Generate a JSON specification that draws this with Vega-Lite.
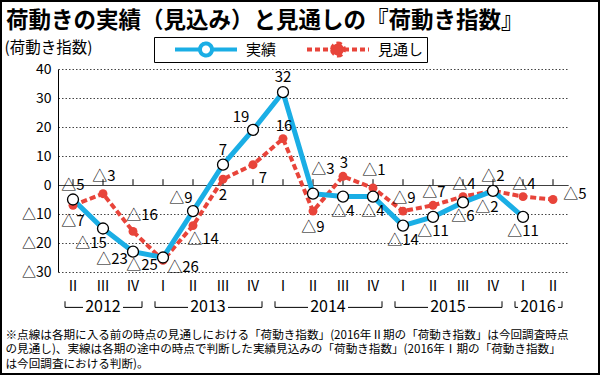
{
  "$schema": "https://vega.github.io/schema/vega-lite/v6.json",
  "width": 598,
  "height": 373,
  "autosize": "none",
  "padding": 1,
  "background": "white",
  "title": {
    "text": "荷動きの実績（見込み）と見通しの『荷動き指数』",
    "anchor": "start",
    "frame": "group",
    "offset": -31,
    "dx": 5,
    "font": "Noto Sans CJK JP",
    "fontSize": 22.5,
    "fontWeight": "bold",
    "color": "black"
  },
  "datasets": {
    "main": [
      {"period": "2012Q2", "t": 2012.25, "year": "2012", "q": "Ⅱ", "実績": -5, "見通し": -7},
      {"period": "2012Q3", "t": 2012.5, "year": "2012", "q": "Ⅲ", "実績": -15, "見通し": -3},
      {"period": "2012Q4", "t": 2012.75, "year": "2012", "q": "Ⅳ", "実績": -23, "見通し": -16},
      {"period": "2013Q1", "t": 2013.0, "year": "2013", "q": "Ⅰ", "実績": -25, "見通し": -26},
      {"period": "2013Q2", "t": 2013.25, "year": "2013", "q": "Ⅱ", "実績": -9, "見通し": -14},
      {"period": "2013Q3", "t": 2013.5, "year": "2013", "q": "Ⅲ", "実績": 7, "見通し": 2},
      {"period": "2013Q4", "t": 2013.75, "year": "2013", "q": "Ⅳ", "実績": 19, "見通し": 7},
      {"period": "2014Q1", "t": 2014.0, "year": "2014", "q": "Ⅰ", "実績": 32, "見通し": 16},
      {"period": "2014Q2", "t": 2014.25, "year": "2014", "q": "Ⅱ", "実績": -3, "見通し": -9},
      {"period": "2014Q3", "t": 2014.5, "year": "2014", "q": "Ⅲ", "実績": -4, "見通し": 3},
      {"period": "2014Q4", "t": 2014.75, "year": "2014", "q": "Ⅳ", "実績": -4, "見通し": -1},
      {"period": "2015Q1", "t": 2015.0, "year": "2015", "q": "Ⅰ", "実績": -14, "見通し": -9},
      {"period": "2015Q2", "t": 2015.25, "year": "2015", "q": "Ⅱ", "実績": -11, "見通し": -7},
      {"period": "2015Q3", "t": 2015.5, "year": "2015", "q": "Ⅲ", "実績": -6, "見通し": -4},
      {"period": "2015Q4", "t": 2015.75, "year": "2015", "q": "Ⅳ", "実績": -2, "見通し": -2},
      {"period": "2016Q1", "t": 2016.0, "year": "2016", "q": "Ⅰ", "実績": -11, "見通し": -4},
      {"period": "2016Q2", "t": 2016.25, "year": "2016", "q": "Ⅱ", "実績": null, "見通し": -5}
    ]
  },
  "data": {"name": "main"},
  "layer": [
    {
      "mark": {"type": "line", "strokeWidth": 4, "strokeDash": [6, 3]},
      "encoding": {
        "x": {
          "field": "t", "type": "quantitative",
          "scale": {"domain": [2012.125, 2016.375], "range": [57, 567], "nice": false, "zero": false},
          "axis": {
            "orient": "bottom", "offset": -102,
            "labels": false, "domain": false, "ticks": false, "tickSize": 0, "grid": false,
            "title": [
              "※点線は各期に入る前の時点の見通しにおける「荷動き指数」(2016年Ⅱ期の「荷動き指数」は今回調査時点",
              "　の見通し)、実線は各期の途中の時点で判断した実績見込みの「荷動き指数」(2016年Ⅰ期の「荷動き指数」",
              "　は今回調査における判断)。"
            ],
            "titleX": 4, "titleY": 57, "titleAlign": "left", "titleAnchor": "start", "titleBaseline": "top",
            "titleFont": "Noto Sans CJK JP", "titleFontSize": 11.6, "titleFontWeight": "normal",
            "titleColor": "black", "titleLineHeight": 14.5
          }
        },
        "y": {
          "field": "見通し", "type": "quantitative",
          "scale": {"domain": [-30, 40], "range": [271, 68], "nice": false, "zero": false},
          "axis": {
            "orient": "left", "offset": -57,
            "values": [-30, -20, -10, 0, 10, 20, 30, 40],
            "format": "d",
            "grid": true,
            "gridDash": {"condition": {"test": "datum.value === 0", "value": [1, 0]}, "value": [1.5, 2]},
            "gridColor": {"condition": {"test": "datum.value === 0", "value": "black"}, "value": "#444444"},
            "gridWidth": 1,
            "domain": true, "domainColor": "black", "domainWidth": 1,
            "ticks": false, "tickSize": 0,
            "labelFont": "Noto Sans CJK JP", "labelFontSize": 14, "labelColor": "black", "labelPadding": 7,
            "title": "(荷動き指数)",
            "titleAngle": 0, "titleX": -54, "titleY": 46, "titleAlign": "left", "titleBaseline": "middle",
            "titleFont": "Noto Sans CJK JP", "titleFontSize": 15.5, "titleFontWeight": "normal", "titleColor": "black"
          }
        },
        "stroke": {
          "datum": "見通し", "type": "nominal",
          "scale": {"domain": ["実績", "見通し"], "range": ["#1aaee5", "#e8443a"]},
          "legend": {
            "title": null,
            "orient": "none", "legendX": 153, "legendY": 36,
            "direction": "horizontal",
            "strokeColor": "black",
            "padding": 3,
            "clipHeight": 19,
            "symbolType": "M-0.59,0L0.051,0M0.359,0L1,0M0.051,0A0.154,0.154,0,1,1,0.359,0A0.154,0.154,0,1,1,0.051,0Z",
            "symbolSize": 6084,
            "symbolStrokeWidth": 4,
            "labelOffset": 7,
            "columnPadding": 12,
            "labelFont": "Noto Sans CJK JP", "labelFontSize": 15, "labelColor": "black",
            "labelExpr": "datum.label === '見通し' ? datum.label + '\u3000\u2004' : datum.label",
            "encoding": {
              "symbols": {
                "fill": {"condition": {"test": "datum.value === '見通し'", "value": "#e8443a"}, "value": "white"},
                "strokeDash": {"condition": {"test": "datum.value === '見通し'", "value": [5, 3]}, "value": [1, 0]}
              }
            }
          }
        }
      }
    },
    {
      "mark": {"type": "rule", "color": "black", "strokeWidth": 1},
      "encoding": {
        "x": {"field": "t", "type": "quantitative"},
        "y": {"datum": 0, "type": "quantitative"},
        "y2": {"datum": 2}
      }
    },
    {
      "mark": {"type": "text", "fontSize": 14, "color": "black"},
      "encoding": {
        "x": {"field": "t", "type": "quantitative"},
        "y": {"datum": -35.2, "type": "quantitative"},
        "text": {"field": "q", "type": "nominal"}
      }
    },
    {
      "transform": [{"aggregate": [{"op": "min", "field": "t", "as": "t_start"}, {"op": "mean", "field": "t", "as": "t_mid"}], "groupby": ["year"]}],
      "mark": {"type": "rule", "color": "black", "strokeWidth": 1, "xOffset": -8, "x2Offset": -20},
      "encoding": {
        "x": {"field": "t_start", "type": "quantitative"},
        "x2": {"field": "t_mid"},
        "y": {"datum": -42.2, "type": "quantitative"}
      }
    },
    {
      "transform": [{"aggregate": [{"op": "max", "field": "t", "as": "t_end"}, {"op": "mean", "field": "t", "as": "t_mid"}], "groupby": ["year"]}],
      "mark": {"type": "rule", "color": "black", "strokeWidth": 1, "xOffset": 20, "x2Offset": 9},
      "encoding": {
        "x": {"field": "t_mid", "type": "quantitative"},
        "x2": {"field": "t_end"},
        "y": {"datum": -42.2, "type": "quantitative"}
      }
    },
    {
      "transform": [{"aggregate": [{"op": "min", "field": "t", "as": "t_start"}], "groupby": ["year"]}],
      "mark": {"type": "rule", "color": "black", "strokeWidth": 1, "xOffset": -8},
      "encoding": {
        "x": {"field": "t_start", "type": "quantitative"},
        "y": {"datum": -42.2, "type": "quantitative"},
        "y2": {"datum": -40.1}
      }
    },
    {
      "transform": [{"aggregate": [{"op": "max", "field": "t", "as": "t_end"}], "groupby": ["year"]}],
      "mark": {"type": "rule", "color": "black", "strokeWidth": 1, "xOffset": 9},
      "encoding": {
        "x": {"field": "t_end", "type": "quantitative"},
        "y": {"datum": -42.2, "type": "quantitative"},
        "y2": {"datum": -40.1}
      }
    },
    {
      "transform": [{"aggregate": [{"op": "mean", "field": "t", "as": "t_mid"}], "groupby": ["year"]}],
      "mark": {"type": "text", "fontSize": 16, "color": "black"},
      "encoding": {
        "x": {"field": "t_mid", "type": "quantitative"},
        "y": {"datum": -42.2, "type": "quantitative"},
        "text": {"field": "year", "type": "nominal"}
      }
    },
    {
      "mark": {"type": "line", "strokeWidth": 5},
      "encoding": {
        "x": {"field": "t", "type": "quantitative"},
        "y": {"field": "実績", "type": "quantitative"},
        "stroke": {"datum": "実績", "type": "nominal"}
      }
    },
    {
      "mark": {"type": "point", "filled": true, "fill": "#e8443a", "color": "#e8443a", "strokeWidth": 0, "size": 80, "opacity": 1},
      "encoding": {
        "x": {"field": "t", "type": "quantitative"},
        "y": {"field": "見通し", "type": "quantitative"}
      }
    },
    {
      "mark": {"type": "point", "filled": true, "fill": "white", "stroke": "black", "strokeWidth": 1.3, "size": 120, "opacity": 1},
      "encoding": {
        "x": {"field": "t", "type": "quantitative"},
        "y": {"field": "実績", "type": "quantitative"}
      }
    },
    {
      "transform": [{"filter": {"field": "period", "oneOf": ["2012Q2", "2013Q3", "2014Q1", "2015Q4"]}}],
      "mark": {"type": "text", "dx": 0, "dy": -15},
      "encoding": {
        "x": {"field": "t", "type": "quantitative"},
        "y": {"field": "実績", "type": "quantitative"},
        "text": {"field": "実績", "type": "quantitative", "format": "d"}
      }
    },
    {
      "transform": [{"filter": {"field": "period", "oneOf": ["2014Q3", "2014Q4", "2015Q1", "2015Q2", "2015Q3", "2016Q1"]}}],
      "mark": {"type": "text", "dx": 0, "dy": 14},
      "encoding": {
        "x": {"field": "t", "type": "quantitative"},
        "y": {"field": "実績", "type": "quantitative"},
        "text": {"field": "実績", "type": "quantitative", "format": "d"}
      }
    },
    {
      "transform": [{"filter": {"field": "period", "oneOf": ["2012Q3"]}}],
      "mark": {"type": "text", "dx": -12, "dy": 14},
      "encoding": {
        "x": {"field": "t", "type": "quantitative"},
        "y": {"field": "実績", "type": "quantitative"},
        "text": {"field": "実績", "type": "quantitative", "format": "d"}
      }
    },
    {
      "transform": [{"filter": {"field": "period", "oneOf": ["2012Q4", "2013Q1"]}}],
      "mark": {"type": "text", "dx": -21, "dy": 7},
      "encoding": {
        "x": {"field": "t", "type": "quantitative"},
        "y": {"field": "実績", "type": "quantitative"},
        "text": {"field": "実績", "type": "quantitative", "format": "d"}
      }
    },
    {
      "transform": [{"filter": {"field": "period", "oneOf": ["2013Q2", "2013Q4"]}}],
      "mark": {"type": "text", "dx": -12, "dy": -13},
      "encoding": {
        "x": {"field": "t", "type": "quantitative"},
        "y": {"field": "実績", "type": "quantitative"},
        "text": {"field": "実績", "type": "quantitative", "format": "d"}
      }
    },
    {
      "transform": [{"filter": {"field": "period", "oneOf": ["2014Q2"]}}],
      "mark": {"type": "text", "dx": 10, "dy": -25},
      "encoding": {
        "x": {"field": "t", "type": "quantitative"},
        "y": {"field": "実績", "type": "quantitative"},
        "text": {"field": "実績", "type": "quantitative", "format": "d"}
      }
    },
    {
      "transform": [{"filter": {"field": "period", "oneOf": ["2012Q2", "2013Q3", "2014Q2"]}}],
      "mark": {"type": "text", "dx": 0, "dy": 16},
      "encoding": {
        "x": {"field": "t", "type": "quantitative"},
        "y": {"field": "見通し", "type": "quantitative"},
        "text": {"field": "見通し", "type": "quantitative", "format": "d"}
      }
    },
    {
      "transform": [{"filter": {"field": "period", "oneOf": ["2014Q1", "2014Q3", "2015Q1", "2015Q2", "2015Q3", "2016Q1"]}}],
      "mark": {"type": "text", "dx": 1, "dy": -13},
      "encoding": {
        "x": {"field": "t", "type": "quantitative"},
        "y": {"field": "見通し", "type": "quantitative"},
        "text": {"field": "見通し", "type": "quantitative", "format": "d"}
      }
    },
    {
      "transform": [{"filter": {"field": "period", "oneOf": ["2012Q3", "2014Q4"]}}],
      "mark": {"type": "text", "dx": 1, "dy": -18},
      "encoding": {
        "x": {"field": "t", "type": "quantitative"},
        "y": {"field": "見通し", "type": "quantitative"},
        "text": {"field": "見通し", "type": "quantitative", "format": "d"}
      }
    },
    {
      "transform": [{"filter": {"field": "period", "oneOf": ["2012Q4"]}}],
      "mark": {"type": "text", "dx": 9, "dy": -16},
      "encoding": {
        "x": {"field": "t", "type": "quantitative"},
        "y": {"field": "見通し", "type": "quantitative"},
        "text": {"field": "見通し", "type": "quantitative", "format": "d"}
      }
    },
    {
      "transform": [{"filter": {"field": "period", "oneOf": ["2013Q2", "2013Q4"]}}],
      "mark": {"type": "text", "dx": 10, "dy": 13},
      "encoding": {
        "x": {"field": "t", "type": "quantitative"},
        "y": {"field": "見通し", "type": "quantitative"},
        "text": {"field": "見通し", "type": "quantitative", "format": "d"}
      }
    },
    {
      "transform": [{"filter": {"field": "period", "oneOf": ["2013Q1"]}}],
      "mark": {"type": "text", "dx": 20, "dy": 7},
      "encoding": {
        "x": {"field": "t", "type": "quantitative"},
        "y": {"field": "見通し", "type": "quantitative"},
        "text": {"field": "見通し", "type": "quantitative", "format": "d"}
      }
    },
    {
      "transform": [{"filter": {"field": "period", "oneOf": ["2016Q2"]}}],
      "mark": {"type": "text", "dx": 22, "dy": -6},
      "encoding": {
        "x": {"field": "t", "type": "quantitative"},
        "y": {"field": "見通し", "type": "quantitative"},
        "text": {"field": "見通し", "type": "quantitative", "format": "d"}
      }
    },
    {
      "transform": [{"filter": {"field": "period", "oneOf": ["2015Q4"]}}],
      "mark": {"type": "text", "dx": -6, "dy": 16},
      "encoding": {
        "x": {"field": "t", "type": "quantitative"},
        "y": {"field": "見通し", "type": "quantitative"},
        "text": {"field": "見通し", "type": "quantitative", "format": "d"}
      }
    }
  ],
  "config": {
    "view": {"stroke": "black", "strokeWidth": 2},
    "locale": {"number": {"decimal": ".", "thousands": ",", "grouping": [3], "currency": ["", ""], "minus": "△"}},
    "text": {"font": "Noto Sans CJK JP", "fontSize": 15, "color": "black"}
  }
}
